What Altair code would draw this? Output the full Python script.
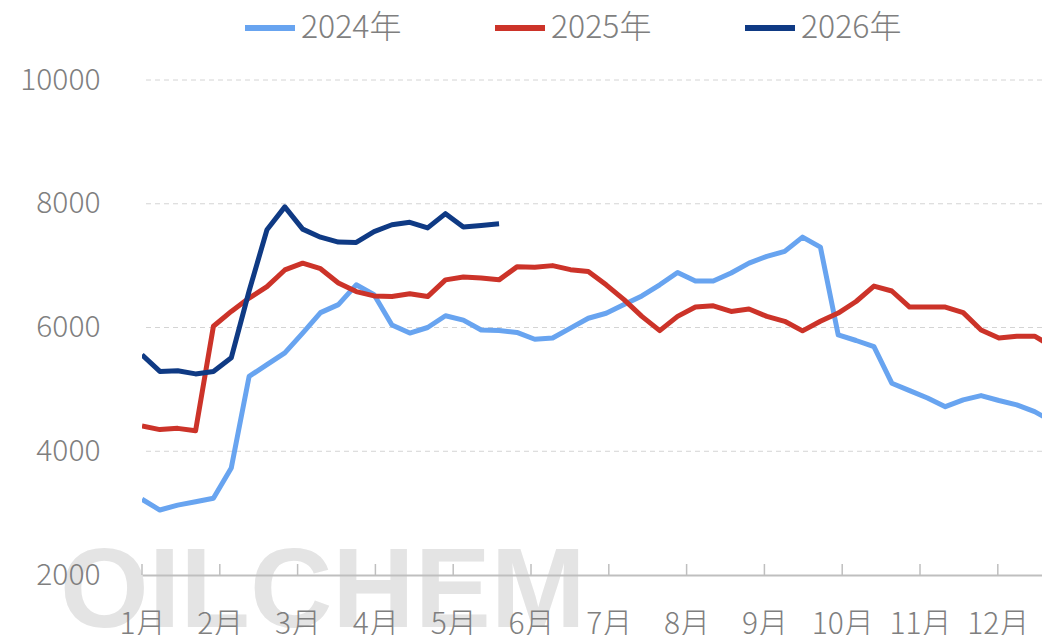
import altair as alt
import pandas as pd

series_names = ["2024年", "2025年", "2026年"]
series_colors = ["#68a4f0", "#cc3329", "#0f3a84"]

y2024 = [3225, 3050, 3130, 3185, 3240, 3730, 5210, 5400, 5590, 5910, 6240, 6370,
         6690, 6530, 6040, 5910, 6000, 6190, 6120, 5960, 5950, 5920, 5810, 5830,
         5990, 6150, 6230, 6370, 6510, 6690, 6890, 6750, 6750, 6880, 7040, 7150,
         7230, 7460, 7300, 5880, 5790, 5690, 5100, 4980, 4860, 4720, 4830, 4900,
         4820, 4750, 4640, 4480]
y2025 = [4410, 4350, 4370, 4330, 6020, 6260, 6475, 6660, 6930, 7040, 6950, 6720,
         6580, 6510, 6500, 6545, 6500, 6770, 6815, 6800, 6770, 6980, 6975, 7000,
         6935, 6905, 6690, 6450, 6180, 5950, 6180, 6330, 6350, 6260, 6300, 6180,
         6100, 5946, 6100, 6233, 6420, 6670, 6590, 6330, 6330, 6330, 6240, 5960,
         5830, 5860, 5860, 5690]
y2026 = [5560, 5290, 5300, 5250, 5290, 5510, 6590, 7580, 7950, 7590, 7460, 7380,
         7375, 7550, 7660, 7700, 7610, 7840, 7625, 7650, 7675]

month_ticks = list(range(1, 13))
y_ticks = [2000, 4000, 6000, 8000, 10000]
grid_values = [4000, 6000, 8000, 10000]
weeks_per_month = 4.358
watermark = ["OILCHEM"]

rows = []
for name, vals in zip(series_names, [y2024, y2025, y2026]):
    for i, v in enumerate(vals):
        rows.append({"series": name, "pos": 1 + i / weeks_per_month, "value": v})
df = pd.DataFrame(rows)

FONT = "Noto Sans CJK SC"
LABEL_COLOR = "#7f7f7f"

x_enc = alt.X(
    "pos:Q",
    scale=alt.Scale(domain=[1, 12.568], nice=False, zero=False),
    axis=alt.Axis(
        title=None, values=month_ticks, labelExpr="datum.value + '月'",
        grid=False, ticks=False, domainColor="#bfbfbf", domainWidth=2,
        labelFontSize=30, labelColor=LABEL_COLOR, labelFont=FONT,
        labelFontWeight=300, labelPadding=34, labelFlush=False,
        labelOverlap=False, zindex=1,
    ),
)
y_enc = alt.Y(
    "value:Q",
    scale=alt.Scale(domain=[2000, 10000], nice=False, zero=False),
    axis=alt.Axis(
        title=None, values=y_ticks, format="d", grid=False, ticks=False,
        domain=False, labelFontSize=30, labelColor=LABEL_COLOR, labelFont=FONT,
        labelFontWeight=300, labelPadding=42, zindex=1,
    ),
)

wm = alt.Chart(pd.DataFrame({"t": watermark})).mark_text(
    font="Liberation Sans", fontWeight="bold", fontSize=114,
    color="#e4e4e4", align="left", baseline="alphabetic",
).encode(x=alt.value(-82), y=alt.value(547), text="t:N")

grid = alt.Chart(pd.DataFrame({"value": grid_values})).mark_rule(
    color="#d4d4d4", strokeWidth=1, strokeDash=[5, 4]
).encode(y=y_enc)

ticks = alt.Chart(pd.DataFrame({"pos": month_ticks})).mark_rule(
    color="#bfbfbf", strokeWidth=1.5
).encode(x=x_enc, y=alt.value(495), y2=alt.value(484))

lines = alt.Chart(df).mark_line(strokeWidth=5, clip=True, strokeJoin="round").encode(
    x=x_enc,
    y=y_enc,
    color=alt.Color(
        "series:N",
        scale=alt.Scale(domain=series_names, range=series_colors),
        legend=alt.Legend(
            title=None, orient="none", legendX=100, legendY=-80,
            direction="horizontal", symbolType="stroke", symbolSize=2500,
            symbolStrokeWidth=6, labelFontSize=32, labelColor=LABEL_COLOR,
            labelFont=FONT, labelFontWeight=300, columnPadding=81,
            labelOffset=3,
        ),
    ),
    detail="series:N",
)

chart = alt.layer(wm, grid, ticks, lines).properties(
    width=900, height=495,
    autosize=alt.AutoSizeParams(type="none"),
    padding={"left": 134, "top": 72, "right": 0, "bottom": 60},
    background="white",
).configure_view(stroke=None)

chart.save("out.html", embed_options={"renderer": "svg", "actions": False})
